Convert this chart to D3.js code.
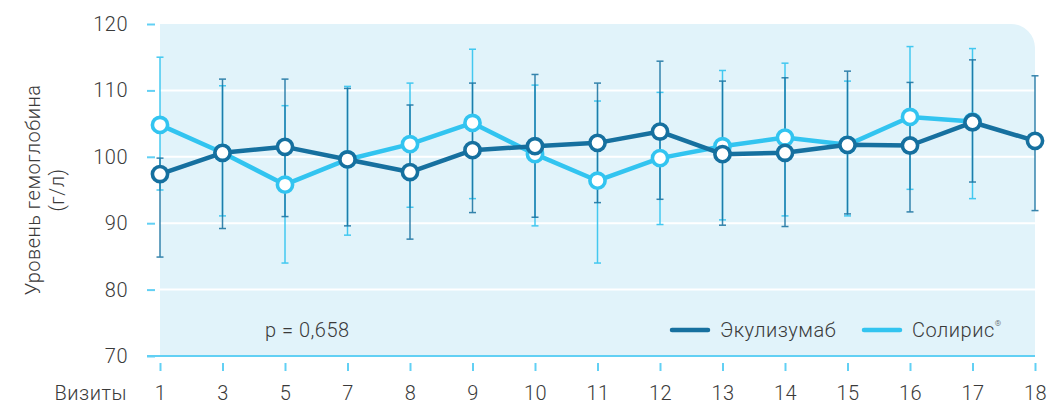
<!DOCTYPE html>
<html><head><meta charset="utf-8">
<script src="https://cdn.jsdelivr.net/npm/d3@7/dist/d3.min.js"></script>
<style>
body{margin:0;background:#fff;}
svg{display:block;font-family:Roboto,"Noto Sans",sans-serif;}
svg text{letter-spacing:0.5px;}
</style></head>
<body><svg id="c" width="1047" height="404"></svg>
<script>
const visits = ["1","3","5","7","8","9","10","11","12","13","14","15","16","17","18"];
const ecu   = [97.4,100.6,101.5,99.6,97.7,101.0,101.6,102.1,103.8,100.4,100.6,101.8,101.7,105.2,102.4];
const ecuHi = [99.8,111.7,111.7,110.3,107.8,111.1,112.4,111.1,114.4,111.4,111.9,112.9,111.2,114.6,112.2];
const ecuLo = [84.9,89.2,91.0,89.6,87.6,91.6,90.9,93.1,93.6,89.7,89.5,91.4,91.7,96.2,91.9];
const sol   = [104.8,100.6,95.8,99.6,101.9,105.1,100.4,96.4,99.8,101.6,102.9,101.8,106.0,105.3,null];
const solHi = [115.0,110.7,107.7,110.6,111.1,116.2,110.8,108.4,109.7,113.0,114.1,111.4,116.6,116.3,null];
const solLo = [95.0,91.1,84.0,88.2,92.4,93.7,89.6,84.0,89.8,90.5,91.1,91.1,95.1,93.7,null];
const yTicks = [70,80,90,100,110,120];
const seriesNames = ["Экулизумаб","Солирис"];
const pText = "p = 0,658";
const yTitle = ["Уровень гемоглобина","(г/л)"];
const xTitle = "Визиты";

const DARK = "#16709f", LIGHT = "#32c4f0", BG = "#e1f3fa", TICK = "#62d0f4", TXT = "#3a3a3a";
const FS = 20, FW = 300;
const svg = d3.select("#c");
const x = d3.scalePoint().domain(visits).range([160,1035]);
const y = d3.scaleLinear().domain([70,120]).range([356,24]);

// background with rounded top-right corner
const L = x.range()[0], R = x.range()[1], T = y(120), B = y(70), rr = 24;
svg.append("path").attr("fill", BG)
  .attr("d", `M${L},${T}H${R-rr}A${rr},${rr} 0 0 1 ${R},${T+rr}V${B}H${L}Z`);

// grid
svg.append("g").selectAll("line").data(yTicks.filter(v=>v>70 && v<120)).join("line")
  .attr("x1", L).attr("x2", R).attr("y1", d=>y(d)).attr("y2", d=>y(d))
  .attr("stroke","#fff").attr("stroke-width",2);

// y axis
const ya = svg.append("g").attr("transform","translate(155,0)")
  .call(d3.axisLeft(y).tickValues(yTicks).tickSize(8).tickPadding(19));
ya.select(".domain").remove();
ya.selectAll(".tick line").attr("stroke",TICK).attr("stroke-width",2);
ya.selectAll(".tick text").attr("fill",TXT).attr("font-size",FS).attr("font-weight",FW).attr("font-family","Roboto");

// x axis
svg.append("line").attr("x1",147).attr("x2",R).attr("y1",B).attr("y2",B).attr("stroke",TICK).attr("stroke-width",2);
const xa = svg.append("g").attr("transform","translate(0,363)")
  .call(d3.axisBottom(x).tickSize(8).tickSizeOuter(0).tickPadding(14.5));
xa.select(".domain").remove();
xa.selectAll(".tick line").attr("stroke",TICK).attr("stroke-width",2);
xa.selectAll(".tick text").attr("fill",TXT).attr("font-size",FS).attr("font-weight",FW).attr("font-family","Roboto");

svg.append("text").attr("x",127).attr("y",400).attr("text-anchor","end")
  .attr("fill",TXT).attr("font-size",FS).attr("font-weight",FW).text(xTitle);

// y title
const yt = svg.append("text").attr("transform","translate(0,190) rotate(-90)")
  .attr("text-anchor","middle").attr("fill",TXT).attr("font-size",FS).attr("font-weight",FW);
yt.append("tspan").attr("x",0).attr("y",40).text(yTitle[0]);
yt.append("tspan").attr("x",0).attr("y",64).text(yTitle[1]);

// error bars
function errBars(vals, hi, lo, color, op){
  const g = svg.append("g").attr("stroke",color).attr("stroke-width",1.5).attr("opacity",op);
  const d = visits.map((v,i)=>({v, hi:hi[i], lo:lo[i]})).filter(d=>d.hi!=null);
  g.selectAll(".v").data(d).join("line").attr("x1",d=>x(d.v)).attr("x2",d=>x(d.v))
    .attr("y1",d=>y(d.hi)).attr("y2",d=>y(d.lo));
  g.selectAll(".h").data(d).join("line").attr("x1",d=>x(d.v)-3.5).attr("x2",d=>x(d.v)+3.5)
    .attr("y1",d=>y(d.hi)).attr("y2",d=>y(d.hi));
  g.selectAll(".l").data(d).join("line").attr("x1",d=>x(d.v)-3.5).attr("x2",d=>x(d.v)+3.5)
    .attr("y1",d=>y(d.lo)).attr("y2",d=>y(d.lo));
}
errBars(sol, solHi, solLo, LIGHT, 0.9);
errBars(ecu, ecuHi, ecuLo, DARK, 0.85);

function series(vals, color){
  const d = visits.map((v,i)=>({v, val:vals[i]})).filter(d=>d.val!=null);
  svg.append("path").datum(d).attr("fill","none").attr("stroke",color).attr("stroke-width",4.5)
    .attr("stroke-linejoin","round")
    .attr("d", d3.line().x(d=>x(d.v)).y(d=>y(d.val)));
  svg.append("g").selectAll("circle").data(d).join("circle")
    .attr("cx",d=>x(d.v)).attr("cy",d=>y(d.val)).attr("r",7.6)
    .attr("fill","#fff").attr("stroke",color).attr("stroke-width",3.6);
}
series(sol, LIGHT);
series(ecu, DARK);

// p text
svg.append("text").attr("x",265).attr("y",337).attr("fill",TXT).attr("font-size",FS).attr("font-weight",FW).text(pText);

// legend
const lg = [{name:seriesNames[0], c:DARK, x:670},{name:seriesNames[1], c:LIGHT, x:862}];
lg.forEach(o=>{
  svg.append("line").attr("x1",o.x+2).attr("x2",o.x+38).attr("y1",330).attr("y2",330)
    .attr("stroke",o.c).attr("stroke-width",4.5).attr("stroke-linecap","round");
  const t = svg.append("text").attr("x",o.x+50).attr("y",337).attr("fill",TXT).attr("font-size",FS).attr("font-weight",FW).text(o.name);
  if(o.name==="Солирис") t.append("tspan").attr("font-size",8).attr("dy",-11).text("®");
});
</script></body></html>
